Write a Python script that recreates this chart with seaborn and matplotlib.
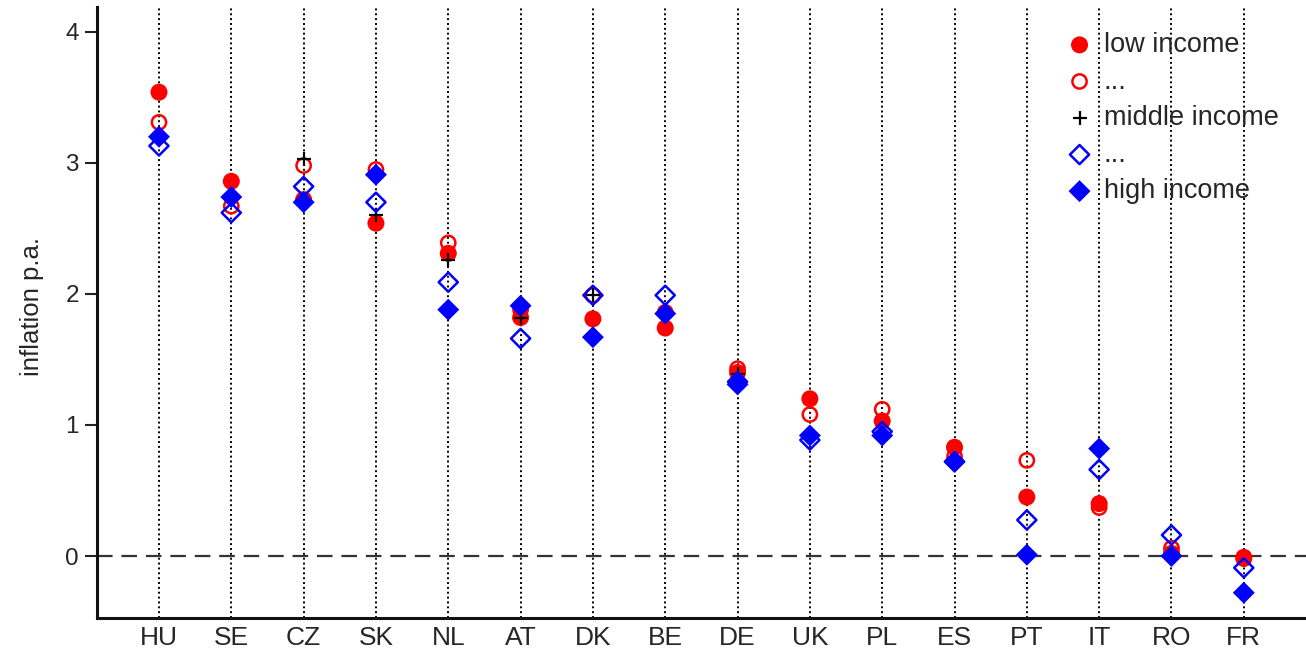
import matplotlib
matplotlib.use("Agg")
import matplotlib.pyplot as plt
import seaborn as sns

countries = ["HU", "SE", "CZ", "SK", "NL", "AT", "DK", "BE",
             "DE", "UK", "PL", "ES", "PT", "IT", "RO", "FR"]

low_income = [3.54, 2.86, 2.72, 2.54, 2.31, 1.82, 1.81, 1.74,
              1.40, 1.20, 1.03, 0.83, 0.45, 0.40, 0.02, -0.01]
lower_middle = [3.31, 2.67, 2.98, 2.95, 2.39, 1.88, 1.99, 1.86,
                1.43, 1.08, 1.12, 0.76, 0.73, 0.37, 0.06, -0.02]
middle_income = [3.20, 2.73, 3.03, 2.60, 2.26, 1.82, 1.99, 1.85,
                 1.39, 0.92, 0.94, 0.73, 0.02, 0.81, 0.01, -0.27]
upper_middle = [3.13, 2.62, 2.82, 2.70, 2.09, 1.66, 1.99, 1.99,
                1.33, 0.885, 0.95, 0.72, 0.275, 0.66, 0.16, -0.09]
high_income = [3.20, 2.74, 2.70, 2.91, 1.88, 1.91, 1.67, 1.85,
               1.31, 0.92, 0.92, 0.72, 0.01, 0.82, 0.00, -0.28]

labels = ["low income", "...", "middle income", "...", "high income"]
yticks = [0, 1, 2, 3, 4]

sns.set_theme(style="ticks")
plt.rcParams["font.family"] = ["Liberation Sans", "DejaVu Sans"]

fig = plt.figure(figsize=(13.06, 6.58), dpi=100)
ax = fig.add_axes([97 / 1306, 40 / 658, 1 - 97 / 1306, 611 / 658])

# dotted guide line through each country
for i in range(len(countries)):
    ax.axvline(i, color="black", linestyle=(0, (1, 1.5)), linewidth=1.4, zorder=1)
ax.axhline(0, color="#333333", linestyle=(0, (7, 4)), linewidth=1.6, zorder=1.5)

sns.scatterplot(x=countries, y=low_income, marker="o", s=150, color="red",
                edgecolor="none", label=labels[0], ax=ax, zorder=3)
sns.scatterplot(x=countries, y=lower_middle, marker="o", s=105, color="red",
                facecolors="none", edgecolor="red", linewidth=1.8,
                label=labels[1], ax=ax, zorder=3)
sns.scatterplot(x=countries, y=middle_income, marker="+", s=110, color="black",
                linewidth=1.6, label=labels[2], ax=ax, zorder=3)
sns.scatterplot(x=countries, y=upper_middle, marker="D", s=95, color="blue",
                facecolors="none", edgecolor="blue", linewidth=1.8,
                label=labels[3], ax=ax, zorder=3)
sns.scatterplot(x=countries, y=high_income, marker="D", s=125, color="blue",
                edgecolor="none", label=labels[4], ax=ax, zorder=3)

ax.set_xlim(-0.857, 15.86)
ax.set_ylim(-0.473, 4.19)
ax.set_yticks(yticks)
ax.set_yticklabels([str(t) for t in yticks])
ax.set_xlabel("")
ax.set_ylabel("inflation p.a.", fontsize=18.5)
ax.yaxis.set_label_coords(-0.044, 0.51)

ax.tick_params(axis="y", length=9, width=1.5, labelsize=17.5, pad=4, color="#222222")
ax.tick_params(axis="x", length=0, labelsize=19, pad=6)

for side in ("top", "right"):
    ax.spines[side].set_visible(False)
for side in ("left", "bottom"):
    ax.spines[side].set_linewidth(2.2)
    ax.spines[side].set_color("#111111")

leg = ax.legend(loc="upper left", bbox_to_anchor=(1066 / 1306, 1 - 32 / 658),
                bbox_transform=fig.transFigure, frameon=False, fontsize=19.5,
                handletextpad=0.4, labelspacing=0.39, borderpad=0,
                borderaxespad=0, handlelength=1.0)

fig.savefig("out.png", dpi=100)
